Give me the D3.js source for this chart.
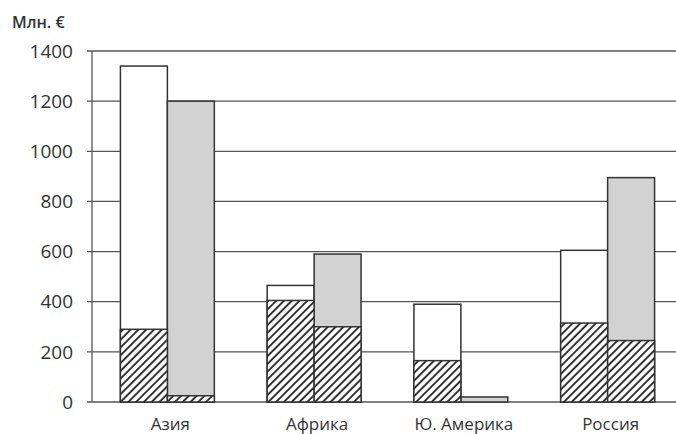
<!DOCTYPE html>
<html>
<head>
<meta charset="utf-8">
<script src="https://cdn.jsdelivr.net/npm/d3@7"></script>
<style>
  body { margin: 0; background: #fff; }
  text { font-family: "Open Sans", sans-serif; fill: #333; }
</style>
</head>
<body>
<div id="chart"></div>
<script>
// data
var categories = ["Азия", "Африка", "Ю. Америка", "Россия"];
var whiteTotal = [1340, 465, 390, 605];
var whiteHatch = [290, 405, 165, 315];
var grayTotal  = [1200, 590, 20, 895];
var grayHatch  = [25, 300, 0, 245];
var yTicks = [0, 200, 400, 600, 800, 1000, 1200, 1400];

var width = 676, height = 434;

var svg = d3.select("#chart").append("svg")
    .attr("width", width)
    .attr("height", height);

// hatch pattern
var defs = svg.append("defs");
defs.append("pattern")
    .attr("id", "hatch")
    .attr("patternUnits", "userSpaceOnUse")
    .attr("width", 5.5).attr("height", 5.5)
    .attr("patternTransform", "rotate(45)")
  .call(function(p) {
    p.append("rect").attr("width", 5.5).attr("height", 5.5).attr("fill", "#fff");
    p.append("line").attr("x1", 1).attr("y1", 0).attr("x2", 1).attr("y2", 5.5)
      .attr("stroke", "#222").attr("stroke-width", 1.8);
  });

// scales
var x = d3.scaleBand()
    .domain(categories)
    .range([94, 681])
    .paddingInner(0.36)
    .paddingOuter(0.18);
var sub = d3.scaleBand()
    .domain(["w", "g"])
    .range([0, x.bandwidth()]);
var y = d3.scaleLinear()
    .domain([0, 1400])
    .range([402, 51]);

// grid lines
svg.append("g").selectAll("line")
    .data(yTicks)
  .enter().append("line")
    .attr("x1", 87).attr("x2", width)
    .attr("y1", function(d) { return y(d); })
    .attr("y2", function(d) { return y(d); })
    .attr("stroke", "#555")
    .attr("stroke-width", 1.3);

// y axis line
svg.append("line")
    .attr("x1", 92).attr("x2", 92)
    .attr("y1", y(1400)).attr("y2", y(0))
    .attr("stroke", "#555").attr("stroke-width", 1.3);

// tick labels
svg.append("g").selectAll("text")
    .data(yTicks)
  .enter().append("text")
    .attr("x", 73)
    .attr("y", function(d) { return y(d); })
    .attr("dy", "0.35em")
    .attr("text-anchor", "end")
    .style("font-size", "19px")
    .text(function(d) { return d; });

svg.append("text")
    .attr("x", 12).attr("y", 28)
    .style("font-size", "16px")
    .style("font-weight", "600")
    .text("Млн. €");

// bars
var rows = categories.map(function(c, i) {
  return [
    {cat: c, key: "w", total: whiteTotal[i], hatch: whiteHatch[i], fill: "#fff"},
    {cat: c, key: "g", total: grayTotal[i], hatch: grayHatch[i], fill: "#d2d2d2"}
  ];
});
var bars = [].concat.apply([], rows);

var g = svg.append("g");
g.selectAll("rect.top")
    .data(bars)
  .enter().append("rect")
    .attr("class", "top")
    .attr("x", function(d) { return x(d.cat) + sub(d.key); })
    .attr("width", sub.bandwidth())
    .attr("y", function(d) { return y(d.total); })
    .attr("height", function(d) { return y(0) - y(d.total); })
    .attr("fill", function(d) { return d.fill; })
    .attr("stroke", "#333")
    .attr("stroke-width", 1.5);

g.selectAll("rect.hatch")
    .data(bars.filter(function(d) { return d.hatch > 0; }))
  .enter().append("rect")
    .attr("class", "hatch")
    .attr("x", function(d) { return x(d.cat) + sub(d.key); })
    .attr("width", sub.bandwidth())
    .attr("y", function(d) { return y(d.hatch); })
    .attr("height", function(d) { return y(0) - y(d.hatch); })
    .attr("fill", "url(#hatch)")
    .attr("stroke", "#333")
    .attr("stroke-width", 1.5);

// category labels
svg.append("g").selectAll("text")
    .data(categories)
  .enter().append("text")
    .attr("x", function(d) { return x(d) + x.bandwidth() / 2 + 3; })
    .attr("y", 430)
    .attr("text-anchor", "middle")
    .style("font-size", "17px")
    .text(function(d) { return d; });
</script>
</body>
</html>
